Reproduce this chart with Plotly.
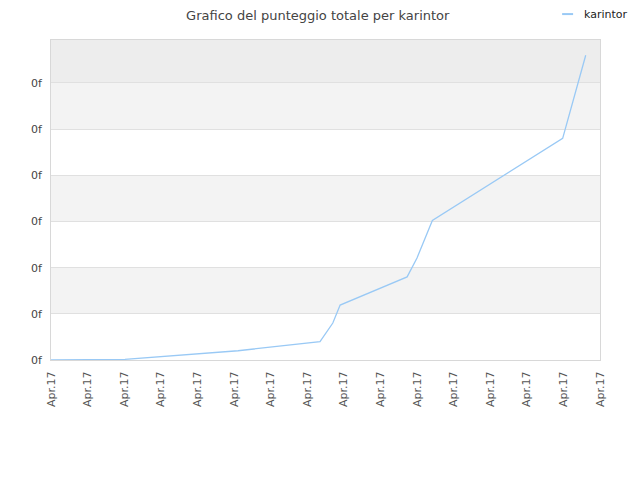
import plotly.graph_objects as go

# positions along the x axis (one unit per tick) and score values (one unit per gridline)
days = [0, 0.46, 2.02, 5.11, 7.35, 7.70, 7.90, 9.73, 10.0, 10.42, 13.98, 14.61]
score = [0, 0, 0.015, 0.20, 0.40, 0.80, 1.19, 1.80, 2.21, 3.02, 4.80, 6.60]

x_ticks = list(range(16))
x_labels = ["Apr.17"] * 16
y_ticks = list(range(7))
y_labels = ["0f"] * 7
series_name = "karintor"
line_color = "#99c9f5"

fig = go.Figure(go.Scatter(
    x=days, y=score, mode="lines", name=series_name,
    line=dict(color=line_color, width=1.3),
))

# alternating background bands
shapes = []
for lo, hi, col in [(1, 2, "#f3f3f3"), (3, 4, "#f3f3f3"), (5, 6, "#f3f3f3"), (6, 6.93, "#ededed")]:
    shapes.append(dict(type="rect", xref="paper", yref="y", x0=0, x1=1, y0=lo, y1=hi,
                       fillcolor=col, line=dict(width=0), layer="below"))

# small legend swatch (plotly's own legend swatch is too long and pushes the margins)
shapes.append(dict(type="line", xref="paper", yref="paper", x0=0.931, x1=0.951, y0=1.081, y1=1.081,
                   line=dict(color=line_color, width=2)))

fig.update_layout(
    width=640, height=480,
    margin=dict(l=43, r=48, t=32, b=128),
    paper_bgcolor="white", plot_bgcolor="white",
    font=dict(family="DejaVu Sans", size=11, color="#444"),
    title=dict(text="Grafico del punteggio totale per karintor", x=0.484, y=0.985,
               xanchor="center", yanchor="middle", font=dict(size=13, color="#444")),
    showlegend=False,
    shapes=shapes,
    annotations=[dict(text=series_name, xref="paper", yref="paper", x=0.967, y=1.081,
                      xanchor="left", yanchor="middle", showarrow=False,
                      font=dict(size=11, color="#222"))],
    xaxis=dict(range=[0, 15], tickvals=x_ticks, ticktext=x_labels, tickangle=-90,
               showgrid=False, zeroline=False, showline=True, linecolor="#d8d8d8",
               mirror=True, ticks="", ticklabelstandoff=6, tickfont=dict(size=11, color="#555")),
    yaxis=dict(range=[0, 6.93], tickvals=y_ticks, ticktext=y_labels,
               showgrid=True, gridcolor="#e0e0e0", zeroline=False, showline=True,
               linecolor="#d8d8d8", mirror=True, ticks="", ticklabelstandoff=6,
               tickfont=dict(size=11, color="#444")),
)

fig.write_html("out.html")
